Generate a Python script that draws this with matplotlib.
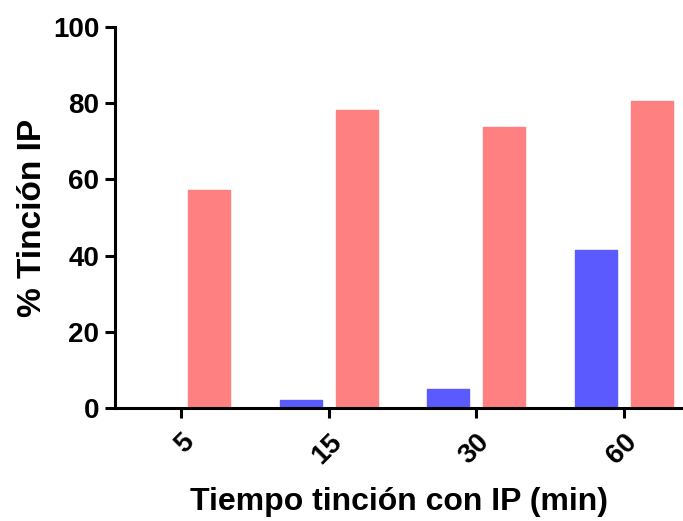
import matplotlib
matplotlib.use("Agg")
import matplotlib.pyplot as plt
import numpy as np

plt.rcParams['font.family'] = ['Liberation Sans', 'DejaVu Sans']
plt.rcParams['font.weight'] = 'bold'

categories = ["5", "15", "30", "60"]
serie_azul = [0.0, 2.1, 5.0, 41.5]
serie_roja = [57.2, 78.2, 73.7, 80.7]
y_ticks = [0, 20, 40, 60, 80, 100]

color_azul = "#5A5AFF"
color_rojo = "#FF8080"

fig = plt.figure(figsize=(6.83, 5.21), dpi=100)
ax = fig.add_axes([0.168, 0.217, 0.832, 0.731])

x = np.arange(len(categories))
w = 0.285
off = 0.19
ax.bar(x - off, serie_azul, width=w, color=color_azul, edgecolor=color_azul,
       linewidth=1.0, joinstyle='round')
ax.bar(x + off, serie_roja, width=w, color=color_rojo, edgecolor=color_rojo,
       linewidth=1.0, joinstyle='round')

ax.set_xlim(-0.45, 3.4)
ax.set_ylim(0, 100)
ax.set_yticks(y_ticks)
ax.set_xticks(x)
ax.set_xticklabels(categories, rotation=45, ha='right', va='top',
                   rotation_mode='anchor')

for s in ['top', 'right']:
    ax.spines[s].set_visible(False)
for s in ['left', 'bottom']:
    ax.spines[s].set_linewidth(2.2)
ax.tick_params(axis='both', width=2.2, length=7, labelsize=20, pad=4)
ax.tick_params(axis='x', pad=8)

ax.set_xlabel("Tiempo tinción con IP (min)", fontsize=23, fontweight='bold', labelpad=13)
ax.set_ylabel("% Tinción IP", fontsize=24, fontweight='bold', labelpad=4)

fig.savefig("out.png", dpi=100)
